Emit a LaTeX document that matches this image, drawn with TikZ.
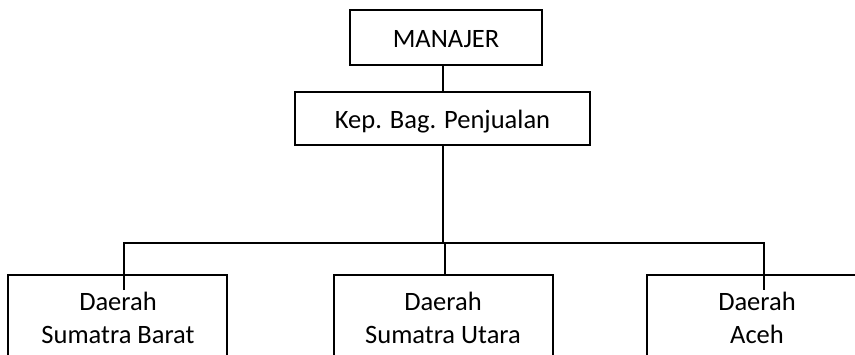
\documentclass[tikz,border=0pt]{standalone}
\usepackage{fontspec}
\setmainfont{Carlito}
\begin{document}
\begin{tikzpicture}[x=1pt,y=-1pt,
  box/.style={draw=black,line width=1.6pt,rectangle,inner sep=0pt},
  label/.style={inner sep=0pt,align=center,font=\fontsize{26.5}{33}\selectfont},
  conn/.style={draw=black,line width=2pt}]
\useasboundingbox (0,0) rectangle (855,354);
\clip (0,0) rectangle (855,354);
% top level
\node[box,minimum width=192pt,minimum height=55pt] (man) at (446,37.5) {};
\node[label,anchor=base] (mant) at (446,47) {MANAJER};
\node[box,minimum width=295pt,minimum height=53pt] (kep) at (442.5,118.5) {};
\node[label,anchor=base] (kept) at (442.5,128) {Kep. Bag. Penjualan};
% regional boxes (running past the lower edge)
\node[box,minimum width=219pt,minimum height=110pt,anchor=north] (sb) at (117.5,274) {};
\node[box,minimum width=219pt,minimum height=110pt,anchor=north] (su) at (443.5,274) {};
\node[box,minimum width=219pt,minimum height=110pt,anchor=north] (ac) at (756.5,274) {};
% two-line labels: base anchor sits on the second line
\node[label,anchor=base] (sbt) at (118,343) {Daerah\\Sumatra Barat};
\node[label,anchor=base] (sut) at (443,343) {Daerah\\Sumatra Utara};
\node[label,anchor=base] (act) at (757,343) {Daerah\\Aceh};
% connectors
\coordinate (busl) at (124,243);
\coordinate (busr) at (764,243);
\coordinate (bus) at (443,243);
\coordinate (sbend) at (124,290);
\coordinate (acend) at (764,290);
\draw[conn] (man.south -| 443,0) -- (kep.north -| 443,0);
\draw[conn] (kep.south -| bus) -- (bus);
\draw[conn] (sbend) -- (busl) -- (busr) -- (acend);
\draw[conn] (bus -| 445,0) -- (su.north -| 445,0);
\end{tikzpicture}
\end{document}
